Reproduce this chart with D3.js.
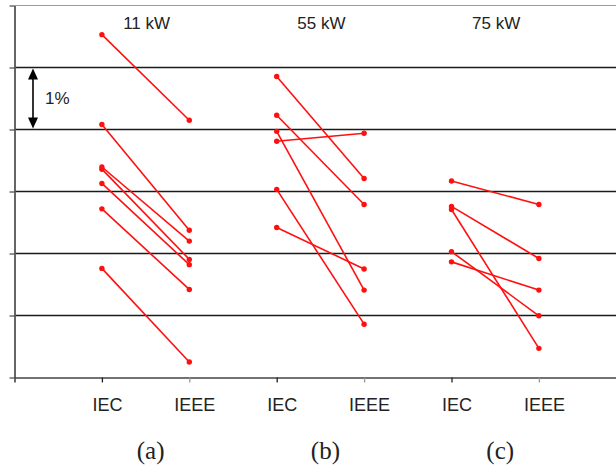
<!DOCTYPE html>
<html>
<head>
<meta charset="utf-8">
<script src="https://cdn.jsdelivr.net/npm/d3@7"></script>
<style>
  html, body { margin: 0; padding: 0; background: #fff; }
  svg { display: block; }
</style>
</head>
<body>
<svg id="chart" width="616" height="474"></svg>
<script>
// Motor ratings and panel captions
const ratings = ["11 kW", "55 kW", "75 kW"];
const panels = ["(a)", "(b)", "(c)"];
const standards = ["IEC", "IEEE"];

// Efficiency of each motor under both standards, in % above the baseline
const iec11  = [5.53, 4.08, 3.395, 3.36, 3.13, 2.72, 1.76];
const ieee11 = [4.15, 2.375, 2.20, 1.905, 1.82, 1.42, 0.25];
const iec55  = [4.855, 4.23, 3.97, 3.81, 3.035, 2.42];
const ieee55 = [3.21, 2.79, 1.41, 3.94, 0.86, 1.75];
const iec75  = [3.17, 2.76, 2.71, 2.03, 1.865];
const ieee75 = [2.79, 1.92, 0.47, 0.995, 1.41];

// Scale-bar label
const scaleLabel = "1%";

const series = [[iec11, ieee11], [iec55, ieee55], [iec75, ieee75]];

const svg = d3.select("#chart");
const W = 616;
const plotLeft = 14.5, plotTop = 5.5, plotBottom = 377.5;

// One slot per standard in each panel
const slots = [];
ratings.forEach((r, g) => standards.forEach(s => slots.push(g + "|" + s)));

const x = d3.scalePoint().domain(slots).range([plotLeft, 626.3]).padding(1);
const y = d3.scaleLinear().domain([0, 6]).range([plotBottom, plotTop]);

// Horizontal gridlines
svg.append("g")
  .selectAll("line")
  .data(d3.range(1, 7))
  .join("line")
  .attr("x1", plotLeft).attr("x2", W)
  .attr("y1", d => y(d)).attr("y2", d => y(d))
  .attr("stroke", d => d === 6 ? "#9a9a9a" : "#1a1a1a")
  .attr("stroke-width", d => d === 6 ? 1.2 : 1.6);

// Left axis (ticks only)
const yAxis = svg.append("g")
  .attr("transform", `translate(${plotLeft},0)`)
  .call(d3.axisLeft(y).ticks(6).tickSize(5).tickSizeOuter(0).tickFormat(""));
yAxis.select(".domain").attr("stroke", "#555").attr("stroke-width", 1.8);
yAxis.selectAll(".tick line").attr("stroke", "#555").attr("stroke-width", 1.3);

// Bottom axis with standard labels
const xAxis = svg.append("g")
  .attr("transform", `translate(0,${plotBottom})`)
  .call(d3.axisBottom(x).tickSize(5).tickSizeOuter(5).tickFormat(d => d.split("|")[1]));
xAxis.select(".domain").attr("stroke", "#444").attr("stroke-width", 1.6);
xAxis.selectAll(".tick line")
  .attr("stroke", d => d.endsWith("IEEE") ? "#999" : "#222")
  .attr("stroke-width", 1.3);
xAxis.selectAll(".tick text")
  .attr("dx", 5)
  .attr("y", 33)
  .attr("dy", 0)
  .attr("fill", "#222")
  .style("font-family", "'Liberation Sans', Arial, sans-serif")
  .style("font-size", "18px");

// Paired measurements per panel
const lineColor = "#ff1010";
const marks = svg.append("g");
series.forEach(([a, b], g) => {
  const x0 = x(g + "|IEC"), x1 = x(g + "|IEEE");
  const pairs = a.map((v, i) => [v, b[i]]);
  const grp = marks.append("g");
  grp.selectAll("line")
    .data(pairs)
    .join("line")
    .attr("x1", x0).attr("x2", x1)
    .attr("y1", d => y(d[0])).attr("y2", d => y(d[1]))
    .attr("stroke", lineColor)
    .attr("stroke-width", 1.6);
  const pts = pairs.flatMap(d => [[x0, d[0]], [x1, d[1]]]);
  grp.selectAll("circle")
    .data(pts)
    .join("circle")
    .attr("cx", d => d[0])
    .attr("cy", d => y(d[1]))
    .attr("r", 2.7)
    .attr("fill", lineColor);

  const mid = (x0 + x1) / 2;
  // Rating title
  svg.append("text")
    .attr("x", mid + 1).attr("y", 28.5)
    .attr("text-anchor", "middle")
    .attr("fill", "#222")
    .style("font-family", "'Liberation Sans', Arial, sans-serif")
    .style("font-size", "17px")
    .text(ratings[g]);
  // Panel caption
  svg.append("text")
    .attr("x", mid + 5).attr("y", 459)
    .attr("text-anchor", "middle")
    .attr("fill", "#222")
    .style("font-family", "'Liberation Serif', 'Times New Roman', serif")
    .style("font-size", "25px")
    .text(panels[g]);
});

// Scale bar showing one percent
const arrowX = 33;
const ya = y(5), yb = y(4);
svg.append("line")
  .attr("x1", arrowX).attr("x2", arrowX)
  .attr("y1", ya + 8).attr("y2", yb - 8)
  .attr("stroke", "#000").attr("stroke-width", 1.6);
svg.append("path")
  .attr("d", `M${arrowX},${ya + 1}L${arrowX - 5},${ya + 12}L${arrowX + 5},${ya + 12}Z`)
  .attr("fill", "#000");
svg.append("path")
  .attr("d", `M${arrowX},${yb - 1}L${arrowX - 5},${yb - 12}L${arrowX + 5},${yb - 12}Z`)
  .attr("fill", "#000");
svg.append("text")
  .attr("x", 45).attr("y", 104)
  .attr("fill", "#222")
  .style("font-family", "'Liberation Sans', Arial, sans-serif")
  .style("font-size", "17px")
  .text(scaleLabel);
</script>
</body>
</html>
